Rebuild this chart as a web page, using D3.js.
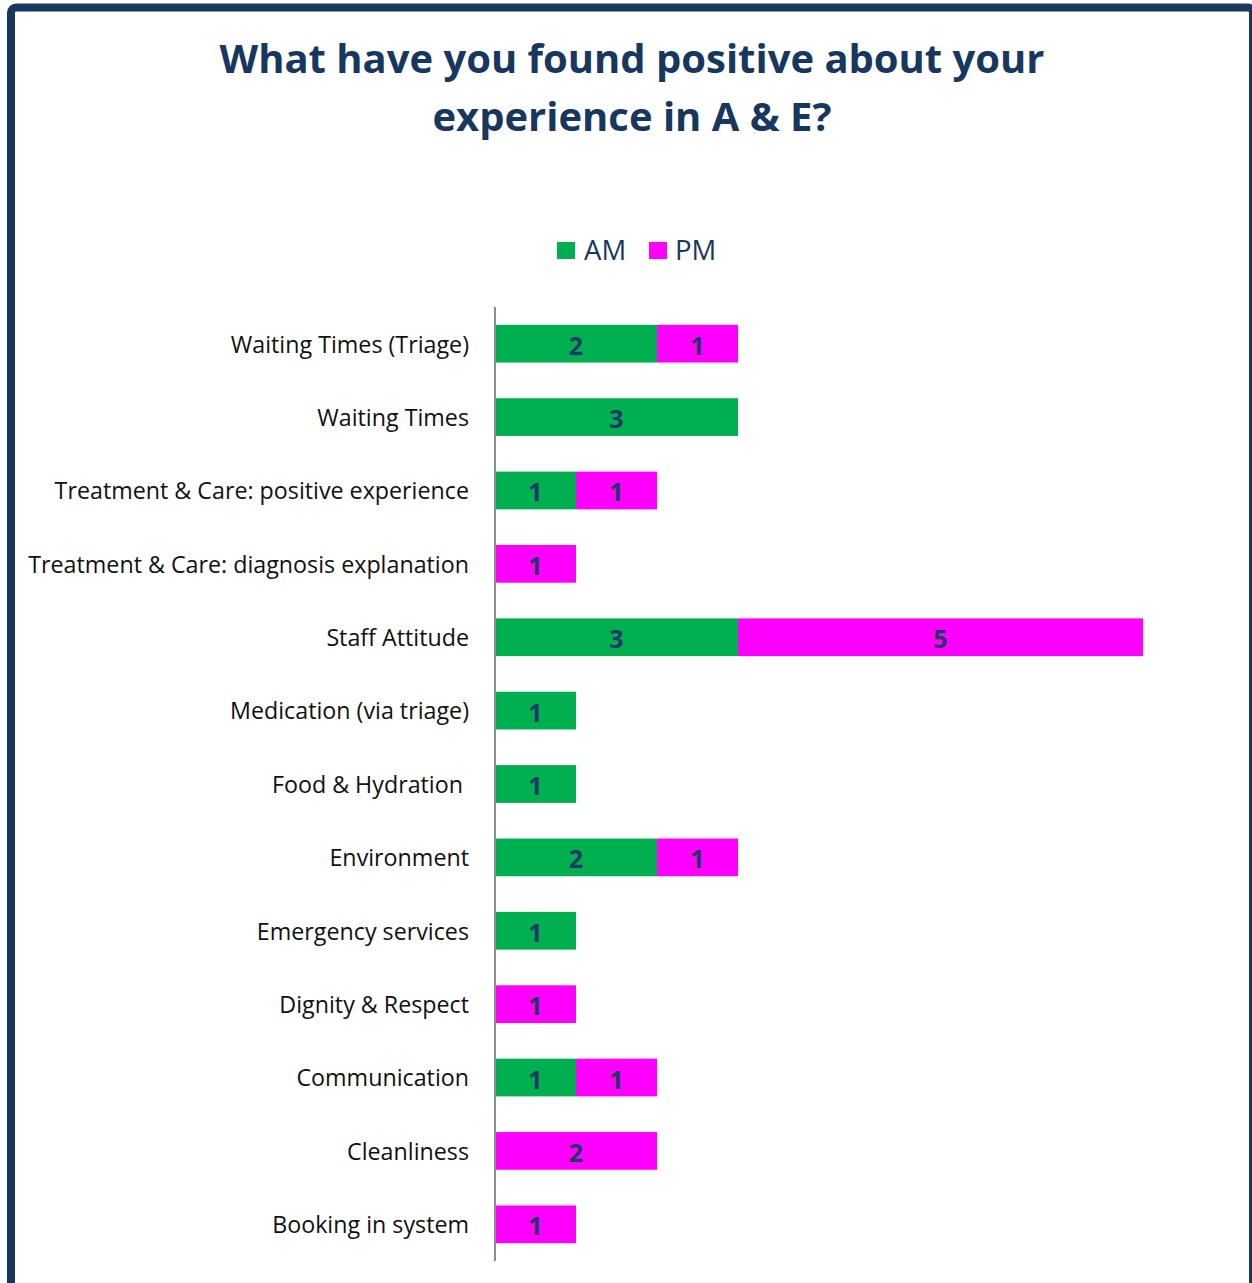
<!DOCTYPE html>
<html>
<head>
<meta charset="utf-8">
<script src="https://cdn.jsdelivr.net/npm/d3@7"></script>
<style>
  html, body { margin: 0; padding: 0; background: #ffffff; }
  svg { display: block; }
  text { font-family: "Open Sans", "DejaVu Sans", sans-serif; }
</style>
</head>
<body>
<svg id="chart" width="1252" height="1283"></svg>
<script>
// Survey responses: what people found positive in A & E
const categories = [
  "Waiting Times (Triage)",
  "Waiting Times",
  "Treatment & Care: positive experience",
  "Treatment & Care: diagnosis explanation",
  "Staff Attitude",
  "Medication (via triage)",
  "Food & Hydration ",
  "Environment",
  "Emergency services",
  "Dignity & Respect",
  "Communication",
  "Cleanliness",
  "Booking in system"
];
const amValues = [2, 3, 1, 0, 3, 1, 1, 2, 1, 0, 1, 0, 0];
const pmValues = [1, 0, 1, 1, 5, 0, 0, 1, 0, 1, 1, 2, 1];
const seriesNames = ["AM", "PM"];
const titleLines = ["What have you found positive about your", "experience in A & E?"];

const colors = { AM: "#00B050", PM: "#FF00FF" };
const navy = "#17375E";

const svg = d3.select("#chart");

// frame around the chart
svg.append("rect")
  .attr("x", 11).attr("y", 7.5)
  .attr("width", 1242).attr("height", 1300)
  .attr("rx", 5)
  .attr("fill", "none")
  .attr("stroke", navy)
  .attr("stroke-width", 8);

// fit a text element's font size so that it spans a target width
function fitWidth(sel, target) {
  const fs = parseFloat(sel.attr("font-size"));
  const w = sel.node().getComputedTextLength();
  sel.attr("font-size", (fs * target / w).toFixed(2));
}

// title
const t1 = svg.append("text")
  .attr("x", 632).attr("y", 73)
  .attr("text-anchor", "middle")
  .attr("font-size", 40).attr("font-weight", 700)
  .attr("fill", navy)
  .text(titleLines[0]);
fitWidth(t1, 825);
const titleSize = t1.attr("font-size");
svg.append("text")
  .attr("x", 632).attr("y", 131)
  .attr("text-anchor", "middle")
  .attr("font-size", titleSize).attr("font-weight", 700)
  .attr("fill", navy)
  .text(titleLines[1]);

// layout
const x = d3.scaleLinear().domain([0, 8]).range([495, 1143]);
const y = d3.scaleBand().domain(categories).range([307, 1261]).paddingInner(0.486).paddingOuter(0.243);

const rows = categories.map((c, i) => ({ cat: c, AM: amValues[i], PM: pmValues[i] }));
const stacked = d3.stack().keys(seriesNames)(rows);

// bars
const layers = svg.append("g").selectAll("g")
  .data(stacked).join("g")
  .attr("fill", d => colors[d.key]);

layers.selectAll("rect")
  .data(d => d.filter(s => s[1] - s[0] > 0))
  .join("rect")
  .attr("x", d => x(d[0]))
  .attr("y", d => y(d.data.cat))
  .attr("width", d => x(d[1]) - x(d[0]))
  .attr("height", y.bandwidth());

// value labels
layers.selectAll("text")
  .data(d => d.filter(s => s[1] - s[0] > 0))
  .join("text")
  .attr("x", d => (x(d[0]) + x(d[1])) / 2)
  .attr("y", d => y(d.data.cat) + y.bandwidth() / 2)
  .attr("dy", "0.44em")
  .attr("text-anchor", "middle")
  .attr("font-size", 25).attr("font-weight", 700)
  .attr("fill", "#1F3864")
  .text(d => d[1] - d[0]);

// category axis
const yAxis = svg.append("g")
  .attr("transform", "translate(495,0)")
  .call(d3.axisLeft(y).tickSize(0).tickPadding(26));
yAxis.select(".domain")
  .attr("d", "M0,307V1261")
  .attr("stroke", "#8C8C8C").attr("stroke-width", 2);
yAxis.selectAll(".tick text")
  .attr("font-family", "'Open Sans', sans-serif")
  .attr("font-size", 21)
  .attr("fill", "#111111")
  .attr("dy", "0.38em")
  .style("white-space", "pre");
{
  const longest = yAxis.selectAll(".tick text").filter(d => d === categories[3]);
  const fs = 21 * 441 / longest.node().getComputedTextLength();
  yAxis.selectAll(".tick text").attr("font-size", fs.toFixed(2));
}

// legend
const legendItems = [
  { key: "AM", sx: 557, tx: 584 },
  { key: "PM", sx: 649, tx: 675 }
];
const legend = svg.append("g");
legend.selectAll("rect").data(legendItems).join("rect")
  .attr("x", d => d.sx).attr("y", 242)
  .attr("width", 18).attr("height", 17)
  .attr("fill", d => colors[d.key]);
legend.selectAll("text").data(legendItems).join("text")
  .attr("x", d => d.tx).attr("y", 260)
  .attr("font-size", 27.5)
  .attr("fill", navy)
  .text(d => d.key);
</script>
</body>
</html>
